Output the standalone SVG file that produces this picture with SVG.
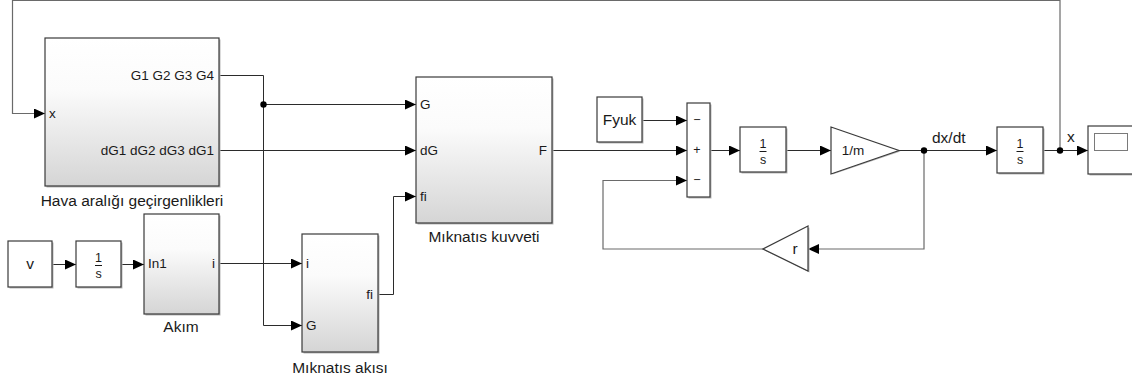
<svg xmlns="http://www.w3.org/2000/svg" width="1132" height="383" viewBox="0 0 1132 383">
<style>
text{font-family:"Liberation Sans",Arial,sans-serif;font-size:13.5px;fill:#1a1a1a}
.lb{font-size:15.5px}
.blk{stroke:#3a3a3a;stroke-width:1.2}
.sub{fill:url(#g)}
.wh{fill:#fff}
.sh{fill:#b8b8b8;stroke:none}
.ln{fill:none;stroke:#2b2b2b;stroke-width:1}
.lg{fill:none;stroke:#6a6a6a;stroke-width:1.2}
.e{text-anchor:end}
.m{text-anchor:middle}
.sm{font-size:12.5px}
</style>
<defs>
<linearGradient id="g" x1="0" y1="0" x2="0" y2="1">
<stop offset="0" stop-color="#ffffff"/>
<stop offset="0.35" stop-color="#fbfbfb"/>
<stop offset="1" stop-color="#d5d5d5"/>
</linearGradient>
<marker id="a" viewBox="0 0 11 10" refX="11" refY="5" markerWidth="11" markerHeight="10" markerUnits="userSpaceOnUse" orient="auto">
<path d="M0,0 L11,5 L0,10 z" fill="#000"/>
</marker>
</defs>
<rect width="1132" height="383" fill="#fff"/>

<g id="connectors">
<path class="lg" d="M1060,150 V0.5 H12.5 V113.5 H45" marker-end="url(#a)"/>
<path class="ln" d="M219,75.5 H263.5 V325.5 H302" marker-end="url(#a)"/>
<path class="ln" d="M263.5,104.5 H416" marker-end="url(#a)"/>
<path class="ln" d="M219,150.5 H416" marker-end="url(#a)"/>
<path class="ln" d="M52,264.5 H76" marker-end="url(#a)"/>
<path class="ln" d="M121,264.5 H144" marker-end="url(#a)"/>
<path class="ln" d="M219,263.5 H302" marker-end="url(#a)"/>
<path class="ln" d="M378,294.5 H393.5 V196.5 H416" marker-end="url(#a)"/>
<path class="ln" d="M552,150.5 H687" marker-end="url(#a)"/>
<path class="ln" d="M642,120.5 H687" marker-end="url(#a)"/>
<path class="ln" d="M711,150.5 H740" marker-end="url(#a)"/>
<path class="ln" d="M786,150.5 H831" marker-end="url(#a)"/>
<path class="ln" d="M899,150.5 H997" marker-end="url(#a)"/>
<path class="lg" d="M924,150.5 V249 H808" marker-end="url(#a)"/>
<path class="lg" d="M763,249 H603 V180.5 H687" marker-end="url(#a)"/>
<path class="ln" d="M1043,150.5 H1088" marker-end="url(#a)"/>
<circle cx="263.5" cy="104.5" r="3.2" fill="#000"/>
<circle cx="924" cy="150.5" r="3.2" fill="#000"/>
<circle cx="1060" cy="150.5" r="3.2" fill="#000"/>
<text class="lb" x="932" y="143">dx/dt</text>
<text class="lb" x="1067" y="142">x</text>
</g>

<g id="hava">
<rect class="sh" x="46.5" y="39.5" width="174" height="148"/>
<rect class="blk sub" x="45" y="38" width="174" height="148"/>
<text x="49" y="118">x</text>
<text class="e" x="214" y="80">G1 G2 G3 G4</text>
<text class="e" x="214" y="155">dG1 dG2 dG3 dG1</text>
<text class="m lb" x="132" y="206">Hava aralığı geçirgenlikleri</text>
</g>

<g id="v">
<rect class="sh" x="9.5" y="242.5" width="44" height="46"/>
<rect class="blk wh" x="8" y="241" width="44" height="46"/>
<text class="m lb" x="30" y="269">v</text>
</g>

<g id="int1">
<rect class="sh" x="77.5" y="242.5" width="45" height="46"/>
<rect class="blk wh" x="76" y="241" width="45" height="46"/>
<text class="m sm" x="98.5" y="262">1</text>
<line x1="95" y1="265.5" x2="102" y2="265.5" stroke="#1a1a1a" stroke-width="1"/>
<text class="m sm" x="98.5" y="278">s</text>
</g>

<g id="akim">
<rect class="sh" x="145.5" y="215.5" width="75" height="100"/>
<rect class="blk sub" x="144" y="214" width="75" height="100"/>
<text x="148" y="268">In1</text>
<text class="e" x="215" y="268">i</text>
<text class="m lb" x="181" y="332">Akım</text>
</g>

<g id="akisi">
<rect class="sh" x="303.5" y="235.5" width="76" height="118"/>
<rect class="blk sub" x="302" y="234" width="76" height="118"/>
<text x="306" y="268">i</text>
<text x="306" y="330">G</text>
<text class="e" x="373" y="299">fi</text>
<text class="m lb" x="340" y="373">Mıknatıs akısı</text>
</g>

<g id="kuvveti">
<rect class="sh" x="417.5" y="78.5" width="136" height="146"/>
<rect class="blk sub" x="416" y="77" width="136" height="146"/>
<text x="420" y="109">G</text>
<text x="420" y="155">dG</text>
<text x="420" y="201">fi</text>
<text class="e" x="547" y="155">F</text>
<text class="m lb" x="484" y="242">Mıknatıs kuvveti</text>
</g>

<g id="fyuk">
<rect class="sh" x="598.5" y="98.5" width="45" height="45"/>
<rect class="blk wh" x="597" y="97" width="45" height="45"/>
<text class="m lb" x="619.5" y="125">Fyuk</text>
</g>

<g id="sum">
<rect class="sh" x="688.5" y="104.5" width="23" height="94"/>
<rect class="blk wh" x="687" y="103" width="23" height="94"/>
<text class="m sm" x="697" y="124">−</text>
<text class="m sm" x="697" y="154">+</text>
<text class="m sm" x="697" y="184">−</text>
</g>

<g id="int2">
<rect class="sh" x="741.5" y="128.5" width="46" height="45"/>
<rect class="blk wh" x="740" y="127" width="46" height="45"/>
<text class="m sm" x="763" y="148">1</text>
<line x1="759.5" y1="151.5" x2="766.5" y2="151.5" stroke="#1a1a1a" stroke-width="1"/>
<text class="m sm" x="763" y="164">s</text>
</g>

<g id="gain_m">
<polygon points="832.5,128.5 900.5,151.5 832.5,174.5" class="sh"/>
<polygon points="831,127 899,150.5 831,174" class="blk wh"/>
<text class="m" x="853" y="155">1/m</text>
</g>

<g id="gain_r">
<polygon points="809.5,227.5 764.5,250.5 809.5,272.5" class="sh"/>
<polygon points="808,226 763,249 808,271" class="blk wh"/>
<text class="m lb" x="795" y="254">r</text>
</g>

<g id="int3">
<rect class="sh" x="998.5" y="128.5" width="46" height="46"/>
<rect class="blk wh" x="997" y="127" width="46" height="46"/>
<text class="m sm" x="1020" y="148">1</text>
<line x1="1016.5" y1="151.5" x2="1023.5" y2="151.5" stroke="#1a1a1a" stroke-width="1"/>
<text class="m sm" x="1020" y="164">s</text>
</g>

<g id="scope">
<rect class="sh" x="1089.5" y="127.5" width="50" height="48"/>
<rect class="blk wh" x="1088" y="126" width="50" height="48"/>
<rect x="1094.5" y="133.5" width="33" height="17" fill="#fff" stroke="#7a7a7a" stroke-width="1"/>
</g>
</svg>
